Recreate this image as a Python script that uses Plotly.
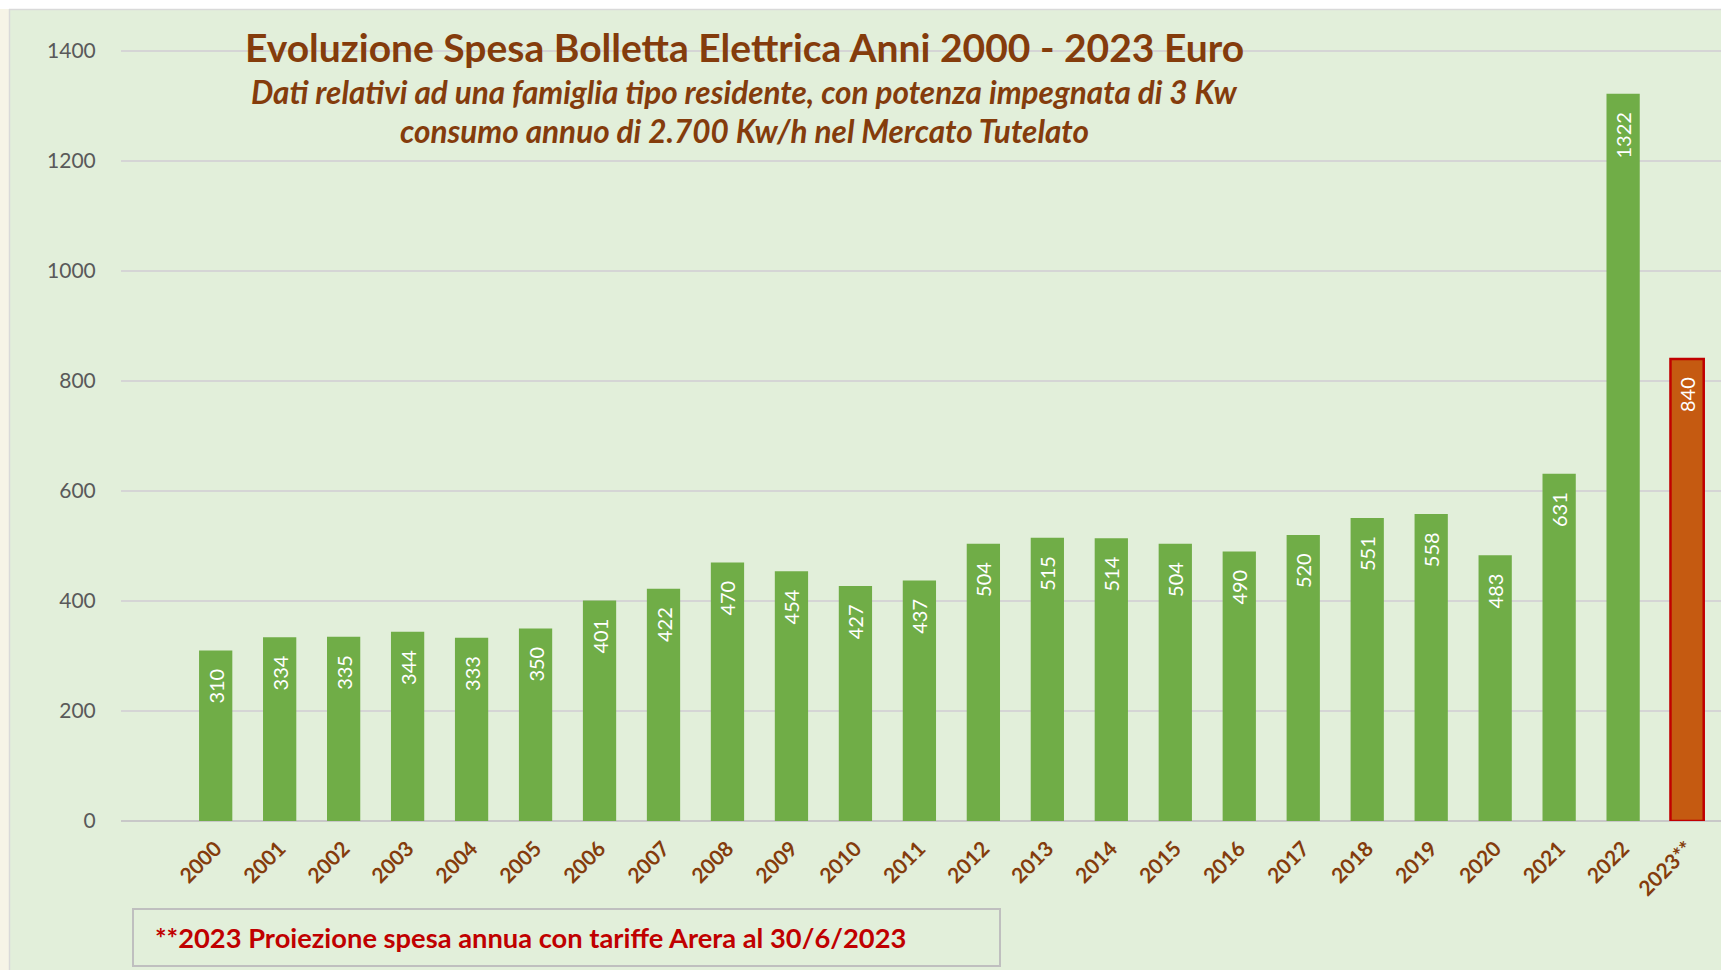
import plotly.graph_objects as go

# --- data ---------------------------------------------------------------
years = ["2000", "2001", "2002", "2003", "2004", "2005", "2006", "2007", "2008", "2009",
         "2010", "2011", "2012", "2013", "2014", "2015", "2016", "2017", "2018", "2019",
         "2020", "2021", "2022", "2023**"]
spesa = [310, 334, 335, 344, 333, 350, 401, 422, 470, 454,
         427, 437, 504, 515, 514, 504, 490, 520, 551, 558,
         483, 631, 1322, 840]
proiezione = [False] * 23 + [True]
y_ticks = [0, 200, 400, 600, 800, 1000, 1200, 1400]

title = "Evoluzione Spesa Bolletta Elettrica Anni 2000 - 2023 Euro"
subtitle_1 = "Dati relativi ad una famiglia tipo residente, con potenza impegnata di 3 Kw"
subtitle_2 = "consumo annuo di 2.700 Kw/h nel Mercato Tutelato"
nota = "**2023 Proiezione spesa annua con tariffe Arera al 30/6/2023"

GREEN = "#70AD47"
ORANGE = "#C55A11"
RED = "#C00000"
BROWN = "#843C0C"
BG = "#E2EFDA"
FONT = "Lato"

W, H = 1721, 970
L, R, T, B = 121, 0, 9, 149
plot_w = W - L - R
plot_h = H - T - B


def px_x(px):
    # page pixel -> paper x
    return (px - L) / plot_w


def px_y(py):
    # page pixel -> paper y
    return (H - B - py) / plot_h


fig = go.Figure()
fig.add_trace(go.Bar(
    x=years, y=spesa,
    marker=dict(color=[ORANGE if p else GREEN for p in proiezione],
                line=dict(color=[RED if p else GREEN for p in proiezione],
                          width=[2.5 if p else 0 for p in proiezione])),
    texttemplate="%{y}\u00a0\u00a0\u00a0",
    textposition="inside", insidetextanchor="end", textangle=-90,
    textfont=dict(family=FONT, size=20, color="white"),
    constraintext="none",
    cliponaxis=False,
))

fig.update_layout(
    width=W, height=H,
    margin=dict(l=L, r=R, t=T, b=B, autoexpand=False),
    paper_bgcolor=BG, plot_bgcolor=BG,
    bargap=0.48, showlegend=False,
    font=dict(family=FONT),
)
fig.update_xaxes(
    type="category", range=[-1.48, 23.53],
    tickangle=-45, tickfont=dict(family=FONT, size=21, color=BROWN, weight="bold"),
    showgrid=False, showline=False, ticks="outside", ticklen=6, tickcolor="rgba(0,0,0,0)",
    automargin=False,
)
fig.update_yaxes(
    range=[0, 1476], tickvals=y_ticks,
    tickfont=dict(family=FONT, size=21, color="#595959"),
    gridcolor="#D5D5D5", gridwidth=2, zeroline=True, zerolinecolor="#C8C8C8", zerolinewidth=2,
    ticks="outside", ticklen=20, tickcolor="rgba(0,0,0,0)", automargin=False,
)

# frame: white top band, cream left band, grey border lines
fig.add_shape(type="rect", xref="paper", yref="paper", xsizemode="pixel", xanchor=0,
              x0=-L, x1=-L + 9, y0=px_y(H), y1=px_y(0),
              fillcolor="#F6F4E7", line=dict(width=0), layer="below")
fig.add_shape(type="rect", xref="paper", yref="paper",
              x0=px_x(0), x1=px_x(W), y0=px_y(9), y1=px_y(0),
              fillcolor="white", line=dict(width=0))
fig.add_shape(type="line", xref="paper", yref="paper",
              x0=px_x(9.5), x1=px_x(9.5), y0=px_y(H), y1=px_y(9),
              line=dict(color="#D9D9D9", width=1.5))
fig.add_shape(type="line", xref="paper", yref="paper",
              x0=px_x(9), x1=px_x(W), y0=px_y(9.5), y1=px_y(9.5),
              line=dict(color="#D9D9D9", width=1.5))

fig.add_annotation(text=title, xref="paper", yref="paper", x=px_x(744), y=px_y(47),
                   showarrow=False, xanchor="center", yanchor="middle",
                   font=dict(family=FONT, size=39, color=BROWN, weight="bold"))
fig.add_annotation(text=subtitle_1, xref="paper", yref="paper", x=px_x(744), y=px_y(92),
                   showarrow=False, xanchor="center", yanchor="middle",
                   font=dict(family=FONT, size=31.5, color=BROWN, weight="bold", style="italic"))
fig.add_annotation(text=subtitle_2, xref="paper", yref="paper", x=px_x(744), y=px_y(131),
                   showarrow=False, xanchor="center", yanchor="middle",
                   font=dict(family=FONT, size=31.5, color=BROWN, weight="bold", style="italic"))

# footnote box
fig.add_shape(type="rect", xref="paper", yref="paper",
              x0=px_x(133), x1=px_x(1000), y0=px_y(966), y1=px_y(909),
              line=dict(color="#BFBFBF", width=2), fillcolor=BG)
fig.add_annotation(text=nota, xref="paper", yref="paper", x=px_x(153), y=px_y(937),
                   showarrow=False, xanchor="left", yanchor="middle",
                   font=dict(family=FONT, size=27.3, color=RED, weight="bold"))

# drop the default body margin so the figure sits at the page origin
fig.write_html("out.html", config={"displayModeBar": False},
               post_script="document.body.style.margin='0';document.body.style.overflow='hidden';")
